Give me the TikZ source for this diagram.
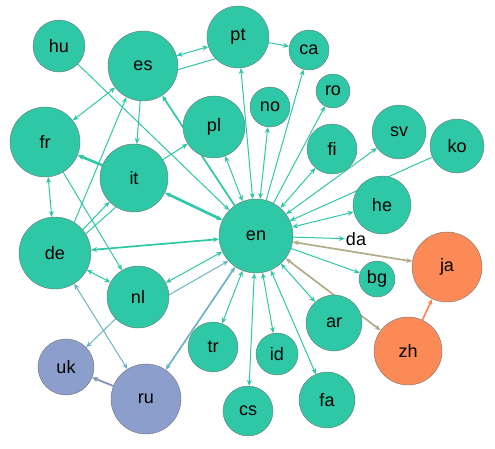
\documentclass[tikz,border=0pt]{standalone}
\usepackage{fontspec}
\setmainfont{Liberation Sans}
\usetikzlibrary{arrows.meta,backgrounds}
\definecolor{grn}{HTML}{2EC8A6}
\definecolor{lav}{HTML}{8C9ECC}
\definecolor{org}{HTML}{FC8A57}
\definecolor{slt}{HTML}{6BB4C0}
\definecolor{khk}{HTML}{B2AB87}
\begin{document}
\begin{tikzpicture}[x=1pt, y=-1pt]
\tikzset{
  lang/.style={circle,draw=black!55,line width=0.4pt,fill=grn,inner sep=0pt,minimum size=#1,font=\fontsize{18}{18}\selectfont},
  slav/.style={lang=#1,fill=lav},
  cjk/.style={lang=#1,fill=org},
  ed/.style={draw=grn,line width=1pt},
  mid/.style={line width=1.7pt},
  fat/.style={line width=2.6pt},
  ar/.style={-{Stealth[length=6pt,width=5pt]}},
  br/.style={{Stealth[length=6pt,width=5pt]}-{Stealth[length=6pt,width=5pt]}}
}
\useasboundingbox (0,0) rectangle (495,448);
% ---- languages
\node[lang=52] (hu) at (59,46)   {hu};
\node[lang=70] (es) at (143,66)  {es};
\node[lang=62] (pt) at (238,37)  {pt};
\node[lang=40] (ca) at (309,50)  {ca};
\node[lang=34] (ro) at (333,91)  {ro};
\node[lang=40] (no) at (270,107) {no};
\node[lang=50] (fi) at (332,149) {fi};
\node[lang=54] (sv) at (399,132) {sv};
\node[lang=54] (ko) at (457,146) {ko};
\node[lang=58] (he) at (382,205) {he};
\node[lang=62] (pl) at (214,127) {pl};
\node[lang=70] (fr) at (45,142)  {fr};
\node[lang=68] (it) at (134,178) {it};
\node[lang=74] (en) at (256,236) {en};
\node[lang=72] (de) at (55,253)  {de};
\node[lang=62] (nl) at (138,297) {nl};
\node[lang=50] (tr) at (213,347) {tr};
\node[lang=50] (cs) at (248,411) {cs};
\node[lang=42] (id) at (277,354) {id};
\node[lang=56] (fa) at (327,400) {fa};
\node[lang=56] (ar) at (334,323) {ar};
\node[lang=36] (bg) at (377,279) {bg};
\node[font=\fontsize{18}{18}\selectfont,inner sep=1pt] (da) at (356,239) {da};
\node[slav=56] (uk) at (66,367)  {uk};
\node[slav=70] (ru) at (146,399) {ru};
\node[cjk=70]  (ja) at (447,267) {ja};
\node[cjk=68]  (zh) at (408,351) {zh};
% ---- links
\begin{scope}[on background layer]
\draw[ed,ar] (hu) -- (en);
\draw[ed,br] (es.17) -- (pt.198);
\draw[ed] (pt.224) -- (es.354);
\draw[ed,ar] (pt) -- (ca);
\draw[ed,br] (es) -- (fr);
\draw[ed,ar] (es) -- (it);
\draw[ed,ar] (de.58) -- (es.242);
\draw[ed,mid,ar] (en.125) -- (es.303);
\draw[ed,ar] (it) -- (pl);
\draw[ed,fat,ar] (it) -- (fr);
\draw[ed,fat,br] (it) -- (en);
\draw[ed,br] (fr) -- (de);
\draw[ed,ar] (fr) -- (nl);
\draw[ed,ar] (de.40) -- (it.224);
\draw[ed] (de.32) -- (it.238);
\draw[ed,mid,br] (de) -- (en);
\draw[ed,br] (de) -- (nl);
\draw[ed,br] (nl.27) -- (en.205);
\draw[ed,draw=slt,ar] (nl.4) -- (en.222);
\draw[ed,draw=slt,ar] (nl) -- (uk);
\draw[ed,draw=slt,br] (de) -- (ru);
\draw[ed,draw=slt,mid,br] (ru) -- (en);
\draw[ed,draw=lav!90!black,mid,ar] (ru) -- (uk);
\draw[ed,br] (en) -- (tr);
\draw[ed,br] (en) -- (cs);
\draw[ed,br] (en) -- (id);
\draw[ed,br] (en) -- (fa);
\draw[ed,br] (en) -- (ar);
\draw[ed,ar] (en) -- (bg);
\draw[ed,ar] (en) -- (da);
\draw[ed,draw=khk,mid,br] (en) -- (ja);
\draw[ed,draw=khk,mid,br] (en) -- (zh);
\draw[ed,draw=org,mid,ar] (zh) -- (ja);
\draw[ed,ar] (ko) -- (en);
\draw[ed,br] (en) -- (he);
\draw[ed,br] (en) -- (sv);
\draw[ed,br] (en) -- (fi);
\draw[ed,ar] (en) -- (ro);
\draw[ed,ar] (en) -- (ca);
\draw[ed,br] (en) -- (no);
\draw[ed,br] (en) -- (pt);
\draw[ed,br] (en) -- (pl);
\end{scope}
\end{tikzpicture}
\end{document}
